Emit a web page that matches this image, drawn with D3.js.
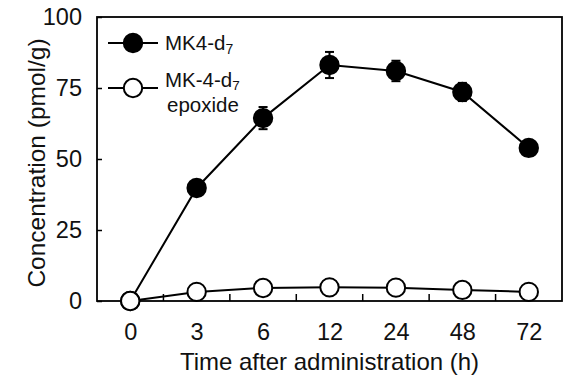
<!DOCTYPE html>
<html>
<head>
<meta charset="utf-8">
<script src="https://cdn.jsdelivr.net/npm/d3@7"></script>
<style>
  html, body { margin: 0; padding: 0; background: #fff; }
  svg { display: block; font-family: "Liberation Sans", Arial, sans-serif; }
</style>
</head>
<body>
<svg id="chart" width="565" height="389"></svg>
<script>
// Sampling times after administration (h)
const timeLabels = ["0", "3", "6", "12", "24", "48", "72"];
// MK-4-d7 concentration (pmol/g), mean and SE
const mk4Values = [0, 39.8, 64.4, 83.1, 81.0, 73.6, 53.9];
const mk4Errors = [0, 2.5, 3.9, 4.6, 3.6, 3.2, 1.5];
// MK-4-d7 epoxide concentration (pmol/g)
const epoxideValues = [0, 3.2, 4.6, 4.8, 4.7, 3.9, 3.2];
const yTicks = [0, 25, 50, 75, 100];

const svg = d3.select("#chart");
const plotLeft = 97, plotRight = 562, plotTop = 17, plotBottom = 301;
const ink = "#111";

const x = d3.scalePoint().domain(timeLabels).range([plotLeft, plotRight]).padding(0.5);
const y = d3.scaleLinear().domain([0, 100]).range([plotBottom, plotTop]);
const step = x.step();

// Frame
svg.append("rect")
  .attr("x", plotLeft).attr("y", plotTop)
  .attr("width", plotRight - plotLeft).attr("height", plotBottom - plotTop)
  .attr("fill", "none").attr("stroke", "#000").attr("stroke-width", 1.8);

// Y axis: inward ticks, labels on the left
const yAxis = d3.axisLeft(y).tickValues(yTicks).tickSize(-5).tickPadding(15).tickFormat(d3.format("d"));
const gy = svg.append("g").attr("transform", `translate(${plotLeft},0)`).call(yAxis);
gy.select(".domain").remove();
gy.selectAll(".tick line").attr("stroke", "#000").attr("stroke-width", 1.5);
gy.selectAll(".tick text").attr("font-size", 23.5).attr("fill", ink)
  .attr("font-family", "Liberation Sans, Arial, sans-serif");

// X axis: ticks between categories pointing up
const xAxis = d3.axisBottom(x).tickSize(0).tickPadding(22);
const gx = svg.append("g").attr("transform", `translate(0,${plotBottom})`).call(xAxis);
gx.select(".domain").remove();
gx.selectAll(".tick text").attr("font-size", 23.5).attr("fill", ink)
  .attr("font-family", "Liberation Sans, Arial, sans-serif");
svg.append("g").selectAll("line")
  .data(timeLabels.slice(1))
  .join("line")
  .attr("x1", d => x(d) - step / 2).attr("x2", d => x(d) - step / 2)
  .attr("y1", plotBottom).attr("y2", plotBottom - 7)
  .attr("stroke", "#000").attr("stroke-width", 1.5);

// Axis titles
svg.append("text")
  .attr("x", (plotLeft + plotRight) / 2).attr("y", 370)
  .attr("text-anchor", "middle").attr("font-size", 24).attr("fill", ink)
  .text("Time after administration (h)");
svg.append("text")
  .attr("transform", `translate(45,163) rotate(-90)`)
  .attr("text-anchor", "middle").attr("font-size", 24.5).attr("fill", ink)
  .text("Concentration (pmol/g)");

const line = d3.line().x((d, i) => x(timeLabels[i])).y(d => y(d));
const r = 9.2;

// MK-4-d7 series
svg.append("path").datum(mk4Values)
  .attr("d", line).attr("fill", "none").attr("stroke", "#000").attr("stroke-width", 2);
const eb = svg.append("g");
mk4Values.forEach((v, i) => {
  const e = mk4Errors[i];
  if (!e) return;
  const cx = x(timeLabels[i]);
  eb.append("line").attr("x1", cx).attr("x2", cx).attr("y1", y(v - e)).attr("y2", y(v + e))
    .attr("stroke", "#000").attr("stroke-width", 2);
  [v - e, v + e].forEach(b => eb.append("line")
    .attr("x1", cx - 4.5).attr("x2", cx + 4.5).attr("y1", y(b)).attr("y2", y(b))
    .attr("stroke", "#000").attr("stroke-width", 2));
});
svg.append("g").selectAll("circle")
  .data(mk4Values)
  .join("circle")
  .attr("cx", (d, i) => x(timeLabels[i])).attr("cy", d => y(d)).attr("r", r)
  .attr("fill", "#000").attr("stroke", "#000").attr("stroke-width", 2);

// Epoxide series (drawn on top)
svg.append("path").datum(epoxideValues)
  .attr("d", line).attr("fill", "none").attr("stroke", "#000").attr("stroke-width", 2);
svg.append("g").selectAll("circle")
  .data(epoxideValues)
  .join("circle")
  .attr("cx", (d, i) => x(timeLabels[i])).attr("cy", d => y(d)).attr("r", r)
  .attr("fill", "#fff").attr("stroke", "#000").attr("stroke-width", 2);

// Legend
const legend = svg.append("g");
const items = [
  { y: 43, fill: "#000" },
  { y: 88, fill: "#fff" }
];
items.forEach(it => {
  legend.append("line").attr("x1", 108).attr("x2", 158).attr("y1", it.y).attr("y2", it.y)
    .attr("stroke", "#000").attr("stroke-width", 2);
  legend.append("circle").attr("cx", 133).attr("cy", it.y).attr("r", r)
    .attr("fill", it.fill).attr("stroke", "#000").attr("stroke-width", 2);
});
const t1 = legend.append("text").attr("x", 165).attr("y", 50).attr("font-size", 20.5).attr("fill", ink);
t1.append("tspan").text("MK4-d");
t1.append("tspan").attr("font-size", 14).attr("dy", 4).text("7");
const t2 = legend.append("text").attr("x", 165).attr("y", 86.5).attr("font-size", 20.5).attr("fill", ink);
t2.append("tspan").text("MK-4-d");
t2.append("tspan").attr("font-size", 13.5).attr("dy", 3.5).text("7");
legend.append("text").attr("x", 167).attr("y", 112).attr("font-size", 20.5).attr("fill", ink).text("epoxide");
</script>
</body>
</html>
